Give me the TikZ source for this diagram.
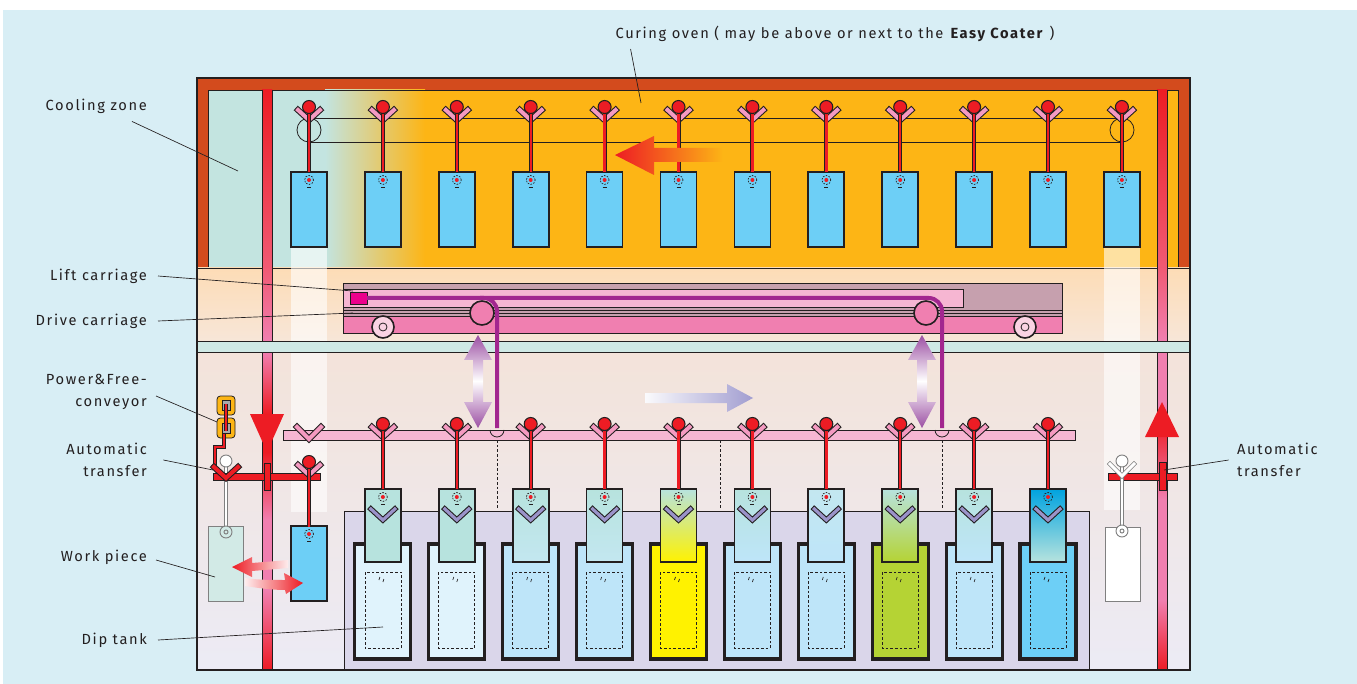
\documentclass[tikz,border=0pt]{standalone}
\usepackage{fontspec}
\setmainfont[LetterSpace=11]{Fira Sans}

\definecolor{bgblue}{HTML}{D8EEF5}
\definecolor{linegray}{HTML}{231F20}
\definecolor{ovenrim}{HTML}{D34B1D}
\definecolor{ovenfill}{HTML}{FDB515}
\definecolor{coolfill}{HTML}{C3E4E0}
\definecolor{bandtop}{HTML}{FDDCB6}
\definecolor{bandbot}{HTML}{F7E6D8}
\definecolor{halltop}{HTML}{F3E3DA}
\definecolor{hallmid}{HTML}{F6F4F8}
\definecolor{hallbot}{HTML}{ECEBF5}
\definecolor{stripteal}{HTML}{CFE9E5}
\definecolor{railred}{HTML}{ED1C24}
\definecolor{railrose}{HTML}{F05A74}
\definecolor{railpink}{HTML}{F07FB0}
\definecolor{hookpink}{HTML}{F49AC1}
\definecolor{partblue}{HTML}{6DCFF6}
\definecolor{parttint}{HTML}{D2EAE6}
\definecolor{liftmauve}{HTML}{C6A0AE}
\definecolor{liftpink}{HTML}{F6B6D2}
\definecolor{drivepink}{HTML}{F07FB0}
\definecolor{wheelpink}{HTML}{FAD3E3}
\definecolor{liftmark}{HTML}{EC008C}
\definecolor{cablepurple}{HTML}{A2268F}
\definecolor{chaingray}{HTML}{A7A9AC}
\definecolor{tankbg}{HTML}{DAD6EA}
\definecolor{chevron}{HTML}{9B93C9}
\definecolor{arrowlilac}{HTML}{A19DD0}
\definecolor{arrowplum}{HTML}{9B4FA3}
\definecolor{primer}{HTML}{B7E3DE}
\definecolor{bathpale}{HTML}{E0F3FC}
\definecolor{bathblue}{HTML}{BEE5F9}
\definecolor{bathsky}{HTML}{C3E7F0}
\definecolor{bathyellow}{HTML}{FFF200}
\definecolor{bathgreen}{HTML}{B5D334}
\definecolor{bathdeep}{HTML}{6DCFF6}
\definecolor{deepblue}{HTML}{00A3DF}

\tikzset{every picture/.style={line width=0.75pt},
  thinline/.style={draw=linegray, line width=0.6pt},
  leader/.style={draw=linegray, line width=0.5pt},
  lbl/.style={font=\fontsize{11}{16.5}\selectfont, text=linegray, inner sep=2pt},
  vhook/.style={preaction={draw=linegray, line width=4.6pt, line cap=rect}, draw=#1, line width=3pt, line cap=rect},
  vhook/.default=hookpink,
  ghostv/.style={preaction={draw=gray, line width=3.4pt, line cap=rect}, draw=white, line width=2.2pt, line cap=rect},
  redrod/.style={preaction={draw=linegray, line width=3pt}, draw=railred, line width=1.8pt},
  whiterod/.style={preaction={draw=gray, line width=2.6pt}, draw=white, line width=1.6pt},
  ghost/.style={draw=gray, line width=0.7pt},
  ball/.style={fill=railred, draw=linegray, line width=0.8pt},
  part/.style={draw=linegray, line width=1.3pt},
  tank/.style={draw=linegray, line width=2.3pt},
  dashedbox/.style={draw=linegray, line width=0.5pt, dash pattern=on 2pt off 1.5pt},
  chev/.style={preaction={draw=linegray, line width=4pt, line cap=rect}, draw=chevron, line width=2.4pt, line cap=rect},
  cable/.style={draw=cablepurple, line width=3pt},
  % pics are drawn y-up, so downward offsets are negative here
  hanger/.pic={
    \draw[vhook] (-11,-3) -- (0,-13) -- (11,-3);
    \draw[redrod] (0,-2) -- (0,-65);
    \draw[ball] (0,0) circle (6.5);
  },
  eyelet/.pic={
    \draw[linegray, line width=0.5pt, dash pattern=on 1.2pt off 1pt] (0,0) circle (4.5);
    \fill[railred] (0,0) circle (2);
    \draw[linegray, line width=0.5pt] (-2,-7) -- (2,-7);
  },
}

\begin{document}
\begin{tikzpicture}[x=0.75pt,y=0.75pt,yscale=-1,xscale=1]
\useasboundingbox (0,0) rectangle (1357,684);
\fill[white] (0,0) rectangle (1357,684);
\fill[bgblue] (3,10) rectangle (1357,684);

%Shape: oven housing with cooling zone
\fill[ovenrim] (197,78) rectangle (1190,268);
\fill[ovenfill] (208,90) rectangle (1178,268);
\fill[coolfill] (208,90) rectangle (325,268);
\shade[left color=coolfill, right color=ovenfill] (325,90) rectangle (425,268);
\draw[thinline] (208,268) -- (208,90) -- (1178,90) -- (1178,268);

%Shape: carriage band and dipping hall
\shade[top color=bandtop, bottom color=bandbot] (197,268) rectangle (1190,341);
\shade[top color=halltop, middle color=hallmid, bottom color=hallbot] (197,352) rectangle (1190,670);
\draw[thinline] (197,268) -- (1190,268);

% lift shafts
\fill[white, opacity=0.6] (291,247) rectangle (327,512);
\fill[white, opacity=0.6] (1104,247) rectangle (1140,510);

%Shape: left rail
\shade[top color=railred, bottom color=railrose] (262,90) rectangle (272,268);
\shade[top color=railrose, bottom color=railpink] (262,268) rectangle (272,341);
\shade[top color=railpink, bottom color=railred] (262,352) rectangle (272,414);
\fill[railred] (262,414) rectangle (272,452);
\shade[top color=railred, bottom color=railpink] (262,452) rectangle (272,520);
\fill[railpink] (262,520) rectangle (272,590);
\shade[top color=railpink, bottom color=railred] (262,590) rectangle (272,670);
\draw[thinline] (262,90) -- (262,670) (272,90) -- (272,670);
%Shape: right rail
\shade[top color=railred, bottom color=railrose] (1157,90) rectangle (1167,268);
\shade[top color=railrose, bottom color=railpink] (1157,268) rectangle (1167,341);
\fill[railpink] (1157,352) rectangle (1167,420);
\shade[top color=railred, bottom color=railpink] (1157,420) rectangle (1167,500);
\fill[railpink] (1157,500) rectangle (1167,600);
\shade[top color=railpink, bottom color=railred] (1157,600) rectangle (1167,670);
\draw[thinline] (1157,90) -- (1157,670) (1167,90) -- (1167,670);

% rail direction arrows
\fill[railred] (250,414) -- (284,414) -- (267,452) -- cycle;
\fill[railred] (1145,437) -- (1179,437) -- (1162,402) -- cycle;

%Shape: teal strip
\fill[stripteal] (197,341) rectangle (1190,352);
\draw[thinline] (197,341) -- (1190,341) (197,352) -- (1190,352);

% oven conveyor chain
\draw[thinline] (309,118) -- (1122,118) (309,142) -- (1122,142);
\draw[thinline] (309,130) circle (12);
\draw[thinline] (1122,130) circle (12);
\foreach \k in {0,...,11}{
  \draw[part, fill=partblue] ({291+73.9*\k},172) rectangle ({327+73.9*\k},247);
  \pic at ({309+73.9*\k},180) {eyelet};
  \pic at ({309+73.9*\k},107) {hanger};
}
% oven travel
\shade[left color=railred, middle color=railred, right color=ovenfill] (615,155) -- (654,136) -- (654,148) -- (723,148) -- (723,162) -- (654,162) -- (654,175) -- cycle;

%Shape: lift and drive carriage
\draw[thinline, fill=liftmauve] (343,283) rectangle (1062,316);
\draw[thinline, fill=liftpink] (343,289) rectangle (963,307);
\draw[thinline] (343,310) -- (1062,310) (343,313) -- (1062,313);
\draw[thinline, fill=drivepink] (343,316) rectangle (1062,333);
\draw[thinline, fill=liftmark] (350,292) rectangle (367,304);
\draw[thinline, fill=drivepink, line width=1.2pt] (482,313) circle (12);
\draw[thinline, fill=drivepink, line width=1.2pt] (926,313) circle (12);
\draw[thinline, fill=wheelpink, line width=1.2pt] (383,327) circle (11);
\draw[thinline] (383,327) circle (4);
\draw[thinline, fill=wheelpink, line width=1.2pt] (1025,327) circle (11);
\draw[thinline] (1025,327) circle (4);

%Shape: dipping conveyor bar
\draw[thinline, fill=liftpink] (283,430) rectangle (1075,440);
\fill[liftpink] (490,431) arc (180:0:7) -- cycle;
\draw[thinline] (490,430) arc (180:0:7);
\fill[liftpink] (935,431) arc (180:0:7) -- cycle;
\draw[thinline] (935,430) arc (180:0:7);
\draw[cable, rounded corners=10] (367,298) -- (942,298) -- (942,428);
\draw[cable, rounded corners=10] (480,298) -- (497,298) -- (497,428);
\draw[dashedbox] (497,440) -- (497,510);
\draw[dashedbox] (720,440) -- (720,510);
\draw[dashedbox] (942,440) -- (942,510);

% lift and travel arrows
\shade[top color=arrowplum, middle color=arrowlilac, bottom color=white] (478,335) -- (492,360) -- (483,360) -- (483,381) -- (473,381) -- (473,360) -- (464,360) -- cycle;
\shade[top color=white, middle color=arrowlilac, bottom color=arrowplum] (473,381) -- (483,381) -- (483,402) -- (492,402) -- (478,428) -- (464,402) -- (473,402) -- cycle;
\shade[top color=arrowplum, middle color=arrowlilac, bottom color=white] (922,335) -- (936,360) -- (927,360) -- (927,381) -- (917,381) -- (917,360) -- (908,360) -- cycle;
\shade[top color=white, middle color=arrowlilac, bottom color=arrowplum] (917,381) -- (927,381) -- (927,402) -- (936,402) -- (922,428) -- (908,402) -- (917,402) -- cycle;
\shade[left color=arrowlilac!5, middle color=arrowlilac, right color=arrowlilac] (645,393) -- (727,393) -- (727,384) -- (753,398) -- (727,412) -- (727,403) -- (645,403) -- cycle;

%Shape: dip tanks
\draw[thinline, fill=tankbg] (344,511) rectangle (1089,670);
\draw[vhook] (297,427) -- (309,439) -- (321,427);
\foreach \k/\bath/\wtop/\wbot in {1/bathpale/primer/primer, 2/bathpale/primer/primer, 3/bathblue/primer/bathsky, 4/bathblue/primer/bathsky, 5/bathyellow/primer/bathyellow, 6/bathblue/primer/bathblue, 7/bathblue/bathsky/bathblue, 8/bathgreen/primer/bathgreen, 9/bathblue/primer/bathblue, 10/bathdeep/deepblue/primer}{
  \pgfmathsetmacro\cx{309+73.9*\k}
  \draw[tank, fill=\bath] (\cx-28,544) rectangle (\cx+28,659);
  \draw[dashedbox] (\cx-18,572) rectangle (\cx+18,648);
  \draw[linegray, line width=0.5pt] (\cx-3,577) -- (\cx-4,580) (\cx+1,579) -- (\cx,582);
  \draw[part, top color=\wtop, bottom color=\wbot] (\cx-18,489) rectangle (\cx+18,562);
  \draw[chev] (\cx-12,509) -- (\cx,520) -- (\cx+12,509);
  \pic at (\cx,497) {eyelet};
  \pic at (\cx,424) {hanger};
}

%Shape: Power&Free chain and left transfer
\draw[thinline, fill=ovenfill, rounded corners=2.5] (217,396) rectangle (235,415);
\draw[thinline, fill=ovenfill, rounded corners=2.5] (217,418) rectangle (235,438);
\draw[thinline, fill=chaingray] (222,400) rectangle (230,410);
\draw[thinline, fill=chaingray] (222,423) rectangle (230,433);
\draw[redrod] (226,404) -- (226,431);
\draw[redrod] (224,434) -- (224,447) -- (215,447) -- (215,469);
\draw[ghost, fill=parttint] (208,526) rectangle (243,601);
\draw[whiterod] (226,466) -- (226,526);
\draw[ghost, fill=white] (226,461) circle (6);
\draw[thinline, fill=railred] (213,473) rectangle (320,480);
\draw[vhook=railred] (214,467) -- (226,478) -- (238,467);
\draw[thinline, fill=railred] (264,463) rectangle (270,490);
\draw[ghost, fill=parttint] (226,532) circle (6);
\draw[ghost] (226,532) circle (2);
\draw[part, fill=partblue] (291,526) rectangle (327,601);
\pic at (309,534) {eyelet};
\pic at (309,462) {hanger};
% hand-over arrows
\shade[left color=railred, right color=railred!8] (232,567) -- (252,557) -- (252,563) .. controls (265,562) and (277,561) .. (288,560) -- (288,568) .. controls (277,569) and (265,570) .. (252,571) -- (252,577) -- cycle;
\shade[left color=railred!8, right color=railred] (245,578) .. controls (258,580) and (272,580) .. (285,580) -- (284,573) -- (303,583) -- (286,594) -- (285,590) .. controls (272,590) and (258,588) .. (245,586) -- cycle;

%Shape: right transfer
\draw[thinline, fill=railred] (1108,473) rectangle (1177,480);
\draw[thinline, fill=railred] (1159,462) rectangle (1166,490);
\draw[ghost, fill=white] (1105,527) rectangle (1140,601);
\draw[whiterod] (1122,466) -- (1122,526);
\draw[ghostv] (1110,464) -- (1122,476) -- (1134,464);
\draw[ghost, fill=white] (1122,461) circle (6);
\draw[ghost, fill=white] (1122,531) circle (6);
\draw[ghost] (1122,531) circle (2);

% outer frame
\draw[linegray, line width=2.2pt] (197,78) rectangle (1190,670);

% Text Node
\node[lbl] (ovenlbl) at (835,34) {Curing oven ( may be above or next to the \textbf{Easy Coater} )};
\node[lbl, anchor=east] (coollbl) at (150,106) {Cooling zone};
\node[lbl, anchor=east] (liftlbl) at (150,276) {Lift carriage};
\node[lbl, anchor=east] (drivelbl) at (150,321) {Drive carriage};
\node[lbl, anchor=east, align=right] (pfclbl) at (150,392) {Power\&Free-\\conveyor};
\node[lbl, anchor=east, align=right] (atllbl) at (150,460) {Automatic\\transfer};
\node[lbl, anchor=east] (worklbl) at (150,557) {Work piece};
\node[lbl, anchor=east] (diplbl) at (150,640) {Dip tank};
\node[lbl, anchor=west, align=left] (atrlbl) at (1234,460) {Automatic\\transfer};

\coordinate (ovenpt) at (641,103);
\coordinate (coolpt) at (238,171);
\coordinate (liftpt) at (353,291);
\coordinate (drivept) at (353,313);
\coordinate (pfcpt) at (217,422);
\coordinate (atlpt) at (213,470);
\coordinate (workpt) at (215,577);
\coordinate (dippt) at (383,627);
\coordinate (atrpt) at (1164,470);
\draw[leader] ([shift={(18,4)}]ovenlbl.south west) -- (ovenpt);
\draw[leader] ([shift={(-18,5)}]coollbl.south east) -- (coolpt);
\draw[leader] ([xshift=6]liftlbl.east) -- (liftpt);
\draw[leader] ([xshift=6]drivelbl.east) -- (drivept);
\draw[leader] ([shift={(6,4)}]pfclbl.east) -- (pfcpt);
\draw[leader] ([xshift=10]atllbl.east) -- (atlpt);
\draw[leader] ([shift={(6,3)}]worklbl.east) -- (workpt);
\draw[leader] ([xshift=6]diplbl.east) -- (dippt);
\draw[leader] ([xshift=-4]atrlbl.west) -- (atrpt);
\end{tikzpicture}
\end{document}
